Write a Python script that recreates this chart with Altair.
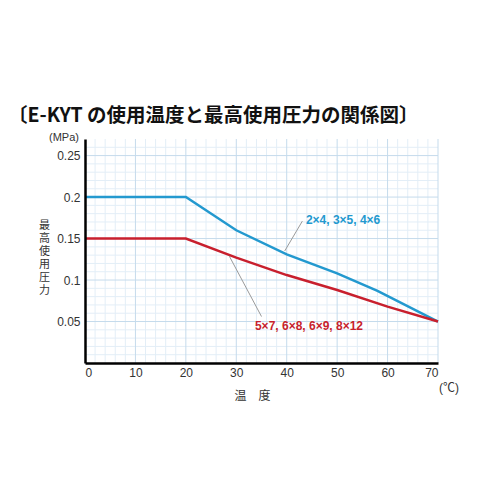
import altair as alt
import pandas as pd

# --- data ---
temp_blue = [0, 20, 30, 40, 50, 58, 70]
press_blue = [0.2, 0.2, 0.16, 0.131, 0.108, 0.087, 0.05]
temp_red = [0, 20, 30, 40, 50, 60, 70]
press_red = [0.15, 0.15, 0.127, 0.106, 0.088, 0.068, 0.05]

label_blue = "2×4, 3×5, 4×6"
label_red = "5×7, 6×8, 6×9, 8×12"

x_ticks = [0, 10, 20, 30, 40, 50, 60, 70]
y_ticks = [0.05, 0.1, 0.15, 0.2, 0.25]
x_minor = [v for v in range(2, 70, 2) if v % 10 != 0]
y_minor = [round(v * 0.01, 2) for v in range(1, 27) if v % 5 != 0]
x_major = [10, 20, 30, 40, 50, 60, 70]
y_major = [0.05, 0.1, 0.15, 0.2, 0.25]

# leader lines (x, y) -> (x2, y2)
lead_x = [39.6, 28.6]
lead_y = [0.135, 0.129]
lead_x2 = [43.1, 35.0]
lead_y2 = [0.171, 0.056]

BLUE = "#2399cf"
RED = "#c81f2d"
FONT = "Liberation Sans, Noto Sans CJK JP"
CJK = "Noto Sans CJK JP"

xs = alt.Scale(domain=[0, 70], nice=False, zero=False)
ys = alt.Scale(domain=[0, 0.27], nice=False, zero=False)

AX = alt.Axis(
    values=x_ticks,
    grid=False,
    ticks=False,
    zindex=1,
    domainColor="#000",
    domainWidth=2.5,
    labelFont=FONT,
    labelFontSize=12,
    labelColor="#333",
    labelPadding=4,
    title="温　度",
    titleFont=CJK,
    titleFontSize=12,
    titleFontWeight="normal",
    titleColor="#333",
    titleX=167,
    titleY=32,
    titleAlign="center",
    titleBaseline="middle",
)
AY = alt.Axis(
    values=y_ticks,
    format="~g",
    grid=False,
    ticks=False,
    zindex=1,
    domainColor="#000",
    domainWidth=2.5,
    labelFont=FONT,
    labelFontSize=12,
    labelColor="#333",
    labelPadding=5,
    title=["最", "高", "使", "用", "圧", "力"],
    titleFont=CJK,
    titleFontSize=11,
    titleFontWeight="normal",
    titleColor="#333",
    titleAngle=0,
    titleX=-41,
    titleY=80,
    titleAlign="center",
    titleBaseline="top",
    titleLineHeight=13,
)

df = pd.DataFrame({"t": temp_blue, "p": press_blue, "s": "blue"})
df = pd.concat([df, pd.DataFrame({"t": temp_red, "p": press_red, "s": "red"})])

grid_minor_x = alt.Chart(pd.DataFrame({"t": x_minor})).mark_rule(
    color="#e3eef7", strokeWidth=1
).encode(x=alt.X("t:Q", scale=xs, axis=AX))
grid_minor_y = alt.Chart(pd.DataFrame({"p": y_minor})).mark_rule(
    color="#e3eef7", strokeWidth=1
).encode(y=alt.Y("p:Q", scale=ys, axis=AY))
grid_major_x = alt.Chart(pd.DataFrame({"t": x_major})).mark_rule(
    color="#c5dbec", strokeWidth=1
).encode(x=alt.X("t:Q", scale=xs, axis=AX))
grid_major_y = alt.Chart(pd.DataFrame({"p": y_major})).mark_rule(
    color="#c5dbec", strokeWidth=1
).encode(y=alt.Y("p:Q", scale=ys, axis=AY))

lines = alt.Chart(df).mark_line(strokeWidth=2.5).encode(
    x=alt.X("t:Q", scale=xs, axis=AX),
    y=alt.Y("p:Q", scale=ys, axis=AY),
    color=alt.Color("s:N", scale=alt.Scale(domain=["blue", "red"], range=[BLUE, RED]), legend=None),
)

leaders = alt.Chart(
    pd.DataFrame({"t": lead_x, "p": lead_y, "t2": lead_x2, "p2": lead_y2})
).mark_rule(color="#9a9a9a", strokeWidth=1).encode(
    x=alt.X("t:Q", scale=xs, axis=AX), y=alt.Y("p:Q", scale=ys, axis=AY), x2="t2:Q", y2="p2:Q"
)

lab_b = alt.Chart(pd.DataFrame({"t": [43.8], "p": [0.172], "txt": [label_blue]})).mark_text(
    align="left", baseline="middle", font=FONT, fontSize=12, fontWeight="bold", color=BLUE
).encode(x=alt.X("t:Q", scale=xs, axis=AX), y=alt.Y("p:Q", scale=ys, axis=AY), text="txt:N")
lab_r = alt.Chart(pd.DataFrame({"t": [33.7], "p": [0.044], "txt": [label_red]})).mark_text(
    align="left", baseline="middle", font=FONT, fontSize=12, fontWeight="bold", color=RED
).encode(x=alt.X("t:Q", scale=xs, axis=AX), y=alt.Y("p:Q", scale=ys, axis=AY), text="txt:N")

mpa = alt.Chart(pd.DataFrame({"txt": ["(MPa)"]})).mark_text(
    align="right", baseline="middle", font=FONT, fontSize=11, color="#333"
).encode(x=alt.value(-6), y=alt.value(-1), text="txt:N")
degc = alt.Chart(pd.DataFrame({"txt": ["(℃)"]})).mark_text(
    align="center", baseline="middle", font=FONT, fontSize=12, color="#333"
).encode(x=alt.value(364), y=alt.value(249), text="txt:N")

chart = alt.layer(
    grid_minor_x, grid_minor_y, grid_major_x, grid_major_y,
    lines, leaders, lab_b, lab_r, mpa, degc,
).properties(
    width=353,
    height=224,
    autosize=alt.AutoSizeParams(type="none"),
    padding={"left": 77, "top": 131, "right": 50, "bottom": 60},
    title=alt.TitleParams(
        "〔E-KYT の使用温度と最高使用圧力の関係図〕",
        anchor="start",
        frame="group",
        dx=-77,
        offset=6,
        font=CJK,
        fontSize=19.5,
        fontWeight="bold",
        color="#111",
    ),
).configure_view(stroke=None)

chart.save("out.html", embed_options={"renderer": "svg", "actions": False})
